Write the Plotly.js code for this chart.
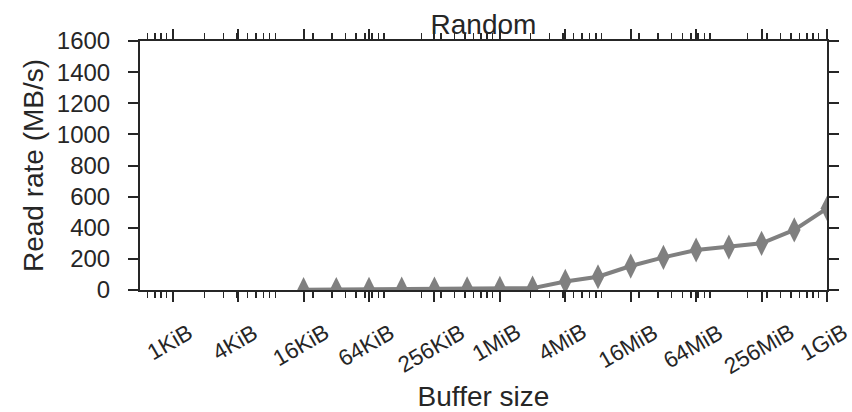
<!DOCTYPE html>
<html>
<head>
<meta charset="utf-8">
<script src="https://cdn.plot.ly/plotly-3.0.1.min.js"></script>
<style>html,body{margin:0;padding:0;background:#fff;}#chart{width:852px;height:412px;}</style>
</head>
<body>
<div id="chart"></div>
<script>
// Buffer sizes in bytes (powers of two, 16KiB .. 1GiB)
var bufferSizes = [16384, 32768, 65536, 131072, 262144, 524288, 1048576, 2097152, 4194304, 8388608, 16777216, 33554432, 67108864, 134217728, 268435456, 536870912, 1073741824];
// Read rate (MB/s)
var readRate = [2, 3, 4, 5, 6, 8, 10, 12, 55, 85, 154, 210, 257, 276, 300, 386, 525];
// Major tick positions and labels
var tickValues = [1024, 4096, 16384, 65536, 262144, 1048576, 4194304, 16777216, 67108864, 268435456, 1073741824];
var tickLabels = ["1KiB", "4KiB", "16KiB", "64KiB", "256KiB", "1MiB", "4MiB", "16MiB", "64MiB", "256MiB", "1GiB"];
// Minor tick positions (2..9 x 10^n)
var minorTicks = [];
[2, 3, 4, 5, 6, 7, 8, 9].forEach(function (k) {
  [100, 1000, 10000, 100000, 1e6, 1e7, 1e8, 1e9].forEach(function (p) { minorTicks.push(k * p); });
});
var yTicks = [0, 200, 400, 600, 800, 1000, 1200, 1400, 1600];

var dark = '#262626';
var fontFam = '"Liberation Sans", Arial, sans-serif';
var xMin = 512, xMax = 1073741824;

var annotations = tickValues.map(function (v, i) {
  return {
    x: Math.log10(v), y: 0, xref: 'x', yref: 'paper',
    text: tickLabels[i], showarrow: false, textangle: -30,
    xanchor: 'center', yanchor: 'top', yshift: -28, xshift: -3, borderpad: 0,
    font: {family: fontFam, size: 22.5, color: dark}
  };
});

var trace = {
  x: bufferSizes, y: readRate, type: 'scatter', mode: 'lines+markers',
  line: {color: '#808080', width: 4},
  marker: {symbol: 'diamond-tall', size: 18, color: '#808080'},
  cliponaxis: true, showlegend: false
};

var layout = {
  width: 852, height: 412,
  margin: {l: 140, r: 25, t: 41, b: 122},
  paper_bgcolor: '#fff', plot_bgcolor: '#fff',
  font: {family: fontFam, color: dark, size: 24},
  title: {text: 'Random', x: 0.5675, xanchor: 'center', y: 1, yref: 'paper', yanchor: 'bottom', pad: {b: 7},
          font: {family: fontFam, size: 28, color: dark}},
  xaxis: {
    type: 'log', range: [Math.log10(xMin), Math.log10(xMax)],
    tickmode: 'array', tickvals: tickValues, showticklabels: false,
    ticks: 'outside', ticklen: 10, tickwidth: 2, tickcolor: dark,
    showline: true, linecolor: dark, linewidth: 2, mirror: 'ticks',
    showgrid: false, zeroline: false,
    minor: {tickmode: 'array', tickvals: minorTicks, ticks: 'outside', ticklen: 6, tickwidth: 1.5, tickcolor: dark, showgrid: false},
    title: {text: 'Buffer size', standoff: 87, font: {family: fontFam, size: 28, color: dark}}
  },
  yaxis: {
    range: [0, 1600], tickmode: 'array', tickvals: yTicks,
    ticks: 'outside', ticklen: 10, tickwidth: 2, tickcolor: dark,
    showline: true, linecolor: dark, linewidth: 2, mirror: 'ticks',
    showgrid: false, zeroline: false, ticklabelstandoff: 13,
    tickfont: {family: fontFam, size: 24, color: dark},
    title: {text: 'Read rate (MB/s)', standoff: 5, font: {family: fontFam, size: 28, color: dark}}
  },
  annotations: annotations
};

Plotly.newPlot('chart', [trace], layout, {displayModeBar: false, staticPlot: true});
</script>
</body>
</html>
